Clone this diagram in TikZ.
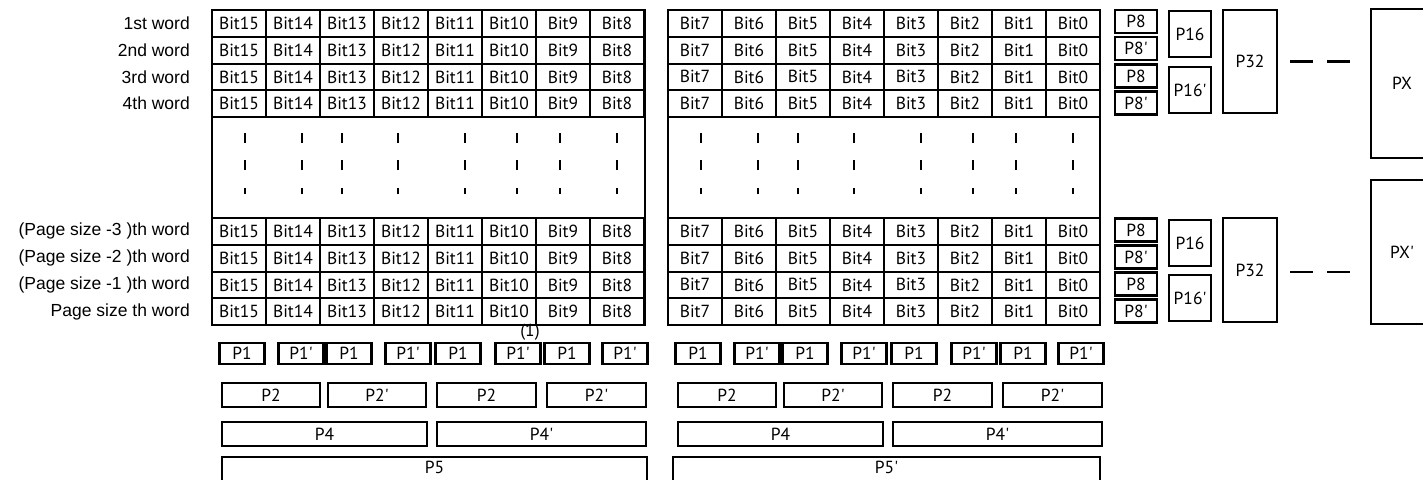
\documentclass[tikz,border=0pt]{standalone}
\usepackage{fontspec}
\setmainfont{Liberation Sans}
\newfontfamily\cellfont{PT Sans}
\usetikzlibrary{positioning}
\newcommand{\Lbl}{\fontsize{17.5}{20}\selectfont}
\newcommand{\Cell}{\cellfont\fontsize{17.5}{20}\selectfont}
\tikzset{
  bitcell/.style={draw, line width=2pt, minimum width=54pt, minimum height=26.75pt,
                  inner sep=0pt, outer sep=0pt, font=\Cell},
  block/.style={draw, line width=2.6pt},
  pbox/.style={draw, line width=2.6pt, inner sep=0pt, outer sep=0pt, font=\Cell},
  wordlbl/.style={anchor=east, inner sep=0pt, font=\Lbl},
  gapline/.style={line width=2.6pt, dash pattern=on 23pt off 14pt},
  tick/.style={line width=2.5pt},
}

\begin{document}
\begin{tikzpicture}[x=1pt,y=-1pt]
  \useasboundingbox (0,0) rectangle (1423,479);
  \clip (0,0) rectangle (1423,479);

  % word rows, high byte and low byte
  \foreach \r/\yy/\lbl in {1/10/1st word,2/36.75/2nd word,3/63.5/3rd word,4/90.25/4th word,
      5/218/(Page size -3 )th word,6/244.75/(Page size -2 )th word,
      7/271.5/(Page size -1 )th word,8/298.25/Page size th word}{
    \node[wordlbl] (w\r) at (190,\yy+13.4) {\lbl};
    \foreach \c in {0,...,7}{
      \pgfmathtruncatemacro\hi{15-\c}
      \pgfmathtruncatemacro\lo{7-\c}
      \node[bitcell] (hi\r-\c) at (239+54*\c,\yy+13.4) {Bit\hi};
      \node[bitcell] (lo\r-\c) at (695+54*\c,\yy+13.4) {Bit\lo};
    }
  }
  \draw[block] (212,10) rectangle (645,325);
  \draw[block] (668,10) rectangle (1100,325);

  % vertical ellipsis marks
  \foreach \bx in {212,668}
    \foreach \dx in {33,90,130,186,253,305,348,405}{
      \draw[tick] (\bx+\dx,133) -- (\bx+\dx,143);
      \draw[tick] (\bx+\dx,160) -- (\bx+\dx,170);
      \draw[tick] (\bx+\dx,188) -- (\bx+\dx,194);
    }

  \node[font=\Cell, inner sep=0pt] (one) at (530,332) {(1)};

  % column parities under each byte
  \foreach \bx/\s in {212/a,668/b}{
    \foreach \c/\dx/\lab in {0/30/P1,1/89/P1',2/137/P1,3/196/P1',
                            4/246/P1,5/306/P1',6/355/P1,7/413/P1'}
      \node[pbox, minimum width=45pt, minimum height=21pt] (pone\s\c) at (\bx+\dx,353.5) {\lab};
    \foreach \xa/\xb/\lab [count=\i] in {10/108/P2,116/214/P2',225/324/P2,335/434/P2'}{
      \pgfmathsetmacro\w{\xb-\xa}
      \node[pbox, minimum width=\w pt, minimum height=24pt] (ptwo\s\i) at ({\bx+(\xa+\xb)/2},395) {\lab};
    }
    \foreach \xa/\xb/\lab [count=\i] in {10/215/P4,225/434/P4'}{
      \pgfmathsetmacro\w{\xb-\xa}
      \node[pbox, minimum width=\w pt, minimum height=24pt] (pfour\s\i) at ({\bx+(\xa+\xb)/2},434) {\lab};
    }
  }
  \node[pbox, minimum width=425pt, minimum height=33pt] (pfivea) at (434.5,473.5) {};
  \node[pbox, minimum width=427pt, minimum height=33pt] (pfiveb) at (886.5,473.5) {};
  \node[font=\Cell, inner sep=3.5pt, below=0pt of pfivea.north] (pfivealbl) {P5};
  \node[font=\Cell, inner sep=3.5pt, below=0pt of pfiveb.north] (pfiveblbl) {P5'};

  % row parities
  \foreach \yt/\lab [count=\i] in {10/P8,37/P8',64.5/P8,91.5/P8',218.5/P8,245.5/P8',272.5/P8,299.5/P8'}
    \node[pbox, minimum width=42pt, minimum height=23pt] (peight\i) at (1136,\yt+11.5) {\lab};
  \foreach \yt/\lab [count=\i] in {11/P16,67/P16',220/P16,275/P16'}
    \node[pbox, minimum width=42pt, minimum height=46pt] (psixteen\i) at (1190,\yt+23) {\lab};
  \node[pbox, minimum width=54pt, minimum height=103pt] (pthirtytwoa) at (1250,61.5) {P32};
  \node[pbox, minimum width=54pt, minimum height=104pt] (pthirtytwob) at (1250,270) {P32};
  \node[pbox, minimum width=62pt, minimum height=149pt] (pxa) at (1402,83.5) {PX};
  \node[pbox, minimum width=62pt, minimum height=144pt] (pxb) at (1402,252) {PX'};
  \draw[gapline, shorten <=13pt, shorten >=20pt] (pthirtytwoa.east) -- (pthirtytwoa.east -| pxa.west);
  \draw[gapline, shorten <=13pt, shorten >=20pt] ([yshift=-2pt]pthirtytwob.east) -- ([yshift=-2pt]pthirtytwob.east -| pxb.west);
\end{tikzpicture}
\end{document}
